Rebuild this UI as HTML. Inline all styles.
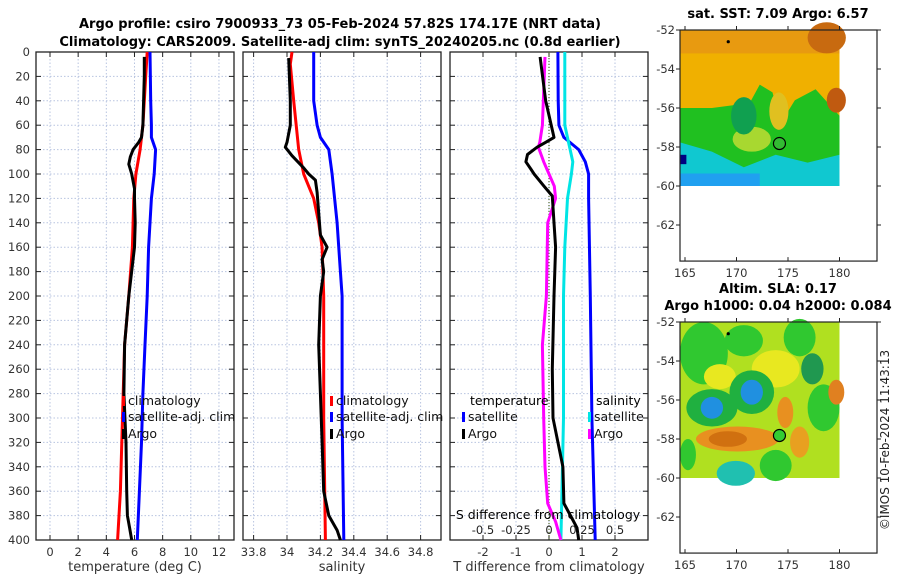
<!DOCTYPE html>
<html><head><meta charset="utf-8"><style>
html,body{margin:0;padding:0;background:#fff;}
svg{display:block;font-family:"DejaVu Sans","Liberation Sans",sans-serif;}
</style></head><body>
<svg id="fig" width="900" height="580" viewBox="0 0 900 580" xmlns="http://www.w3.org/2000/svg">
<text x="340" y="28" text-anchor="middle" font-size="13" font-weight="bold">Argo profile: csiro 7900933_73 05-Feb-2024 57.82S 174.17E (NRT data)</text>
<text x="340" y="46" text-anchor="middle" font-size="13" font-weight="bold">Climatology: CARS2009. Satellite-adj clim: synTS_20240205.nc (0.8d earlier)</text>
<g id="maps"></g>
<g id="panels"></g>
<text transform="translate(889,440) rotate(-90)" text-anchor="middle" font-size="12" fill="#222">©IMOS 10-Feb-2024 11:43:13</text>
</svg>
<script>
// ---------- data ----------
const depthTicks=[0,20,40,60,80,100,120,140,160,180,200,220,240,260,280,300,320,340,360,380,400];
const tempTicks=[0,2,4,6,8,10,12];
const salTicks=[33.8,34,34.2,34.4,34.6,34.8];
const tdTicks=[-2,-1,0,1,2];
const sdTicks=[-0.5,-0.25,0,0.25,0.5];
const sdTickLabels=["-0.5","-0.25","0","0.25","0.5"];
const latTicks=[-52,-54,-56,-58,-60,-62];
const lonTicks=[165,170,175,180];

const climDepth=[0,20,40,60,80,100,120,140,160,200,240,280,320,360,400];
const climTemp=[6.9,6.8,6.7,6.6,6.4,6.1,5.95,5.9,5.85,5.6,5.3,5.2,5.1,5.0,4.8];
const satDepth=[0,40,60,70,80,100,120,140,160,200,240,280,320,360,400];
const satTemp=[7.1,7.15,7.2,7.2,7.5,7.4,7.2,7.1,7.0,6.9,6.75,6.6,6.5,6.35,6.2];
const argoDepth=[4,20,40,60,70,74,80,86,92,100,106,112,120,140,160,200,240,280,320,360,380,390,400];
const argoTemp=[6.7,6.7,6.65,6.6,6.5,6.3,5.9,5.7,5.6,5.8,5.9,6.0,6.0,6.05,6.0,5.6,5.3,5.25,5.4,5.45,5.5,5.65,5.8];

const climSalDepth=[0,10,40,80,100,120,140,160,200,300,400];
const climSal=[34.03,34.02,34.04,34.07,34.1,34.16,34.19,34.21,34.22,34.22,34.23];
const satSalDepth=[0,40,60,70,80,100,140,180,200,300,400];
const satSal=[34.16,34.16,34.18,34.2,34.25,34.27,34.3,34.32,34.33,34.33,34.34];
const argoSalDepth=[5,40,60,74,78,85,95,100,105,115,150,160,170,180,200,240,280,320,360,380,392,400];
const argoSal=[34.01,34.02,34.02,34.0,33.99,34.03,34.1,34.13,34.17,34.18,34.2,34.24,34.21,34.22,34.2,34.19,34.2,34.21,34.22,34.25,34.3,34.32];

const tdSatDepth=[0,40,60,70,80,90,100,120,200,300,400];
const tdSat=[0.27,0.28,0.3,0.45,0.9,1.1,1.2,1.2,1.25,1.3,1.4];
const tdArgoDepth=[4,40,70,74,78,84,90,96,100,110,118,140,160,200,260,300,340,370,380,390,400];
const tdArgo=[-0.27,-0.1,0.15,-0.1,-0.36,-0.65,-0.7,-0.55,-0.45,-0.15,0.1,0.15,0.2,0.15,0.1,0.12,0.42,0.45,0.65,0.85,0.9];
const sdSatDepth=[0,60,75,90,100,120,160,200,300,400];
const sdSat=[0.12,0.12,0.15,0.18,0.17,0.14,0.12,0.11,0.11,0.09];
const sdArgoDepth=[4,60,74,78,90,100,110,120,140,200,240,300,340,370,385,400];
const sdArgo=[-0.03,-0.05,-0.07,-0.08,-0.04,0.0,0.04,0.05,-0.01,-0.02,-0.05,-0.04,-0.03,-0.01,0.05,0.09];

// ---------- helpers ----------
const NS="http://www.w3.org/2000/svg";
function mk(tag,attrs,parent,txt){const e=document.createElementNS(NS,tag);for(const k in attrs)e.setAttribute(k,attrs[k]);if(txt!==undefined)e.textContent=txt;parent.appendChild(e);return e;}
const Y0=52,Y1=540;
function yD(d){return Y0+(Y1-Y0)*d/400;}
const panels=document.getElementById('panels');

function drawPanel(name,L,R,xf,ticks,labels,xlabel,showDepthLabels){
  const g=mk('g',{},panels);
  
  
  ticks.forEach(t=>{const x=xf(t);
    const gl=mk('line',{x1:x,x2:x,y1:Y0,y2:Y1,stroke:'#b8c4e0','stroke-width':1,'stroke-dasharray':'1.5,2'},g);
    
    mk('line',{x1:x,x2:x,y1:Y1,y2:Y1-5,stroke:'#222'},g);
    mk('line',{x1:x,x2:x,y1:Y0,y2:Y0+5,stroke:'#222'},g);
  });
  ticks.forEach((t,i)=>{const lb=mk('text',{x:xf(t),y:Y1+16,'text-anchor':'middle','font-size':11.5,fill:'#333'},g,labels?labels[i]:String(t));
    });
  depthTicks.forEach(d=>{const y=yD(d);
    const gl=mk('line',{x1:L,x2:R,y1:y,y2:y,stroke:'#b8c4e0','stroke-width':1,'stroke-dasharray':'1.5,2'},g);
    
    mk('line',{x1:L,x2:L+5,y1:y,y2:y,stroke:'#222'},g);
    mk('line',{x1:R,x2:R-5,y1:y,y2:y,stroke:'#222'},g);
    if(showDepthLabels){const lb=mk('text',{x:L-6,y:y+4,'text-anchor':'end','font-size':11.5,fill:'#333'},g,String(d));
      }
  });
  const fr=mk('rect',{x:L,y:Y0,width:R-L,height:Y1-Y0,fill:'none',stroke:'#222','stroke-width':1.3},g);
  
  const xl=mk('text',{x:(L+R)/2,y:571,'text-anchor':'middle','font-size':13,fill:'#333'},g,xlabel);
  
  return g;
}
function line(g,name,depths,vals,xf,color){
  const pts=depths.map((d,i)=>xf(vals[i]).toFixed(1)+','+yD(d).toFixed(1)).join(' ');
  const p=mk('polyline',{points:pts,fill:'none',stroke:color,'stroke-width':3,'stroke-linejoin':'round'},g);
  
  
}
function legend(g,x,y,color,label){
  mk('rect',{x:x,y:y-9,width:3,height:10,fill:color},g);
  const t=mk('text',{x:x+6,y:y,'font-size':12.5,fill:'#111'},g,label);
  
  
}

// Panel 1: temperature
const xT=v=>50+v*14.08;
const g1=drawPanel('temperature-panel',36,234,xT,tempTicks,null,'temperature (deg C)',true);
line(g1,'climatology-temperature-line',climDepth,climTemp,xT,'#ff0000');
line(g1,'satellite-temperature-line',satDepth,satTemp,xT,'#0000ff');
line(g1,'argo-temperature-line',argoDepth,argoTemp,xT,'#000000');
legend(g1,122,405,'#ff0000','climatology');
legend(g1,122,421,'#0000ff','satellite-adj. clim');
legend(g1,122,438,'#000000','Argo');

// Panel 2: salinity
const xS=v=>287+(v-34)*167;
const g2=drawPanel('salinity-panel',243,441,xS,salTicks,["33.8","34","34.2","34.4","34.6","34.8"],'salinity',false);
line(g2,'climatology-salinity-line',climSalDepth,climSal,xS,'#ff0000');
line(g2,'satellite-salinity-line',satSalDepth,satSal,xS,'#0000ff');
line(g2,'argo-salinity-line',argoSalDepth,argoSal,xS,'#000000');
legend(g2,330,405,'#ff0000','climatology');
legend(g2,330,421,'#0000ff','satellite-adj. clim');
legend(g2,330,438,'#000000','Argo');

// Panel 3: differences
const xTD=v=>549+v*33;
const xSD=v=>549+v*132;
const g3=drawPanel('difference-panel',450,648,xTD,tdTicks,null,'T difference from climatology',false);
mk('line',{x1:xTD(0),x2:xTD(0),y1:Y0,y2:Y1,stroke:'#556b2f','stroke-width':1.2,'stroke-dasharray':'1,2'},g3);
line(g3,'satellite-t-diff-line',tdSatDepth,tdSat,xTD,'#0000ff');
line(g3,'satellite-s-diff-line',sdSatDepth,sdSat,xSD,'#00e5e5');
line(g3,'argo-s-diff-line',sdArgoDepth,sdArgo,xSD,'#ff00ff');
line(g3,'argo-t-diff-line',tdArgoDepth,tdArgo,xTD,'#000000');
let tt=mk('text',{x:470,y:405,'font-size':12.5},g3,'temperature');
legend(g3,462,421,'#0000ff','satellite');
legend(g3,462,438,'#000000','Argo');
tt=mk('text',{x:596,y:405,'font-size':12.5},g3,'salinity');
legend(g3,588,421,'#00e5e5','satellite');
legend(g3,588,438,'#ff00ff','Argo');
tt=mk('text',{x:548,y:519,'text-anchor':'middle','font-size':12.5},g3,'S difference from climatology');
sdTicks.forEach((t,i)=>{const l=mk('text',{x:xSD(t),y:534,'text-anchor':'middle','font-size':11.5,fill:'#222'},g3,sdTickLabels[i]);
  });

// ---------- maps ----------
const maps=document.getElementById('maps');
const lonX=v=>685+(v-165)*10.3;
function drawMap(name,top,title,title2,dotFill){
  const g=mk('g',{},maps);
  
  
  const latY=v=>top+(-52-v)*19.5;
  const L=680,R=877,B=latY(-63.85);
  const x0=L,x1=lonX(180),y0=top,y1=latY(-60);
  const W=x1-x0,H=y1-y0;
  lonTicks.forEach(l=>{const x=lonX(l);
    mk('line',{x1:x,x2:x,y1:B,y2:B-4,stroke:'#222'},g);mk('line',{x1:x,x2:x,y1:top,y2:top-4,stroke:'#222'},g);
    const t=mk('text',{x:x,y:B+16,'text-anchor':'middle','font-size':11.5,fill:'#333'},g,String(l));
    });
  latTicks.forEach(l=>{const y=latY(l);
    mk('line',{x1:L,x2:L-4,y1:y,y2:y,stroke:'#222'},g);mk('line',{x1:R,x2:R+4,y1:y,y2:y,stroke:'#222'},g);
    const t=mk('text',{x:L-5,y:y+4,'text-anchor':'end','font-size':11.5,fill:'#333'},g,String(l));
    });
  const fr=mk('rect',{x:L,y:top,width:R-L,height:B-top,fill:'none',stroke:'#222','stroke-width':1.2},g);
  
  let t=mk('text',{x:778,y:top-(title2?29:12),'text-anchor':'middle','font-size':13,'font-weight':'bold'},g,title);
  
  if(title2){t=mk('text',{x:778,y:top-12,'text-anchor':'middle','font-size':13,'font-weight':'bold'},g,title2);
    }
  const bg=document.createElementNS(NS,'g');g.insertBefore(bg,g.firstChild);
  return {x0,y0,W,H,g,bg,latY,dotFill};
}
function finishMap(m){
  const c=mk('circle',{cx:lonX(174.17),cy:m.latY(-57.82),r:6,fill:m.dotFill,stroke:'#000','stroke-width':1.2},m.g);
  
  mk('circle',{cx:lonX(169.2),cy:m.latY(-52.6),r:1.6,fill:'#000'},m.g);
}

// SST map
const m1=drawMap('sst-map',30,'sat. SST: 7.09 Argo: 6.57',null,'#33bb33');
(function(){const bg=m1.bg;const x0=m1.x0,y0=m1.y0,W=m1.W,H=m1.H;
 mk('rect',{x:x0,y:y0,width:W,height:H,fill:'#20c020'},bg);
 mk('polygon',{points:`${x0},${y0} ${x0+W},${y0} ${x0+W},${y0+H*0.55} ${x0+W*0.85},${y0+H*0.38} ${x0+W*0.72},${y0+H*0.45} ${x0+W*0.63},${y0+H*0.6} ${x0+W*0.58},${y0+H*0.4} ${x0+W*0.5},${y0+H*0.35} ${x0+W*0.42},${y0+H*0.5} ${x0+W*0.35},${y0+H*0.48} ${x0+W*0.2},${y0+H*0.5} ${x0},${y0+H*0.5}`,fill:'#f0b000'},bg);
 mk('rect',{x:x0,y:y0,width:W,height:H*0.15,fill:'#e89a10'},bg);
 mk('ellipse',{cx:x0+W*0.92,cy:y0+H*0.05,rx:W*0.12,ry:H*0.1,fill:'#c86a10'},bg);
 mk('ellipse',{cx:x0+W*0.98,cy:y0+H*0.45,rx:W*0.06,ry:H*0.08,fill:'#c05a10'},bg);
 mk('ellipse',{cx:x0+W*0.62,cy:y0+H*0.52,rx:W*0.06,ry:H*0.12,fill:'#e0c020'},bg);
 mk('ellipse',{cx:x0+W*0.45,cy:y0+H*0.7,rx:W*0.12,ry:H*0.08,fill:'#a8d830'},bg);
 mk('ellipse',{cx:x0+W*0.4,cy:y0+H*0.55,rx:W*0.08,ry:H*0.12,fill:'#10a050'},bg);
 mk('polygon',{points:`${x0},${y0+H*0.72} ${x0+W*0.2},${y0+H*0.78} ${x0+W*0.4},${y0+H*0.88} ${x0+W*0.6},${y0+H*0.8} ${x0+W*0.8},${y0+H*0.85} ${x0+W},${y0+H*0.8} ${x0+W},${y0+H} ${x0},${y0+H}`,fill:'#10c8d0'},bg);
 mk('rect',{x:x0,y:y0+H*0.92,width:W*0.5,height:H*0.08,fill:'#20a0f0'},bg);
 mk('rect',{x:x0,y:y0+H*0.8,width:W*0.04,height:H*0.06,fill:'#000080'},bg);
})();
finishMap(m1);

// SLA map
const m2=drawMap('sla-map',322,'Altim. SLA: 0.17','Argo h1000: 0.04 h2000: 0.084','#33cc33');
(function(){const bg=m2.bg;const x0=m2.x0,y0=m2.y0,W=m2.W,H=m2.H;
 mk('rect',{x:x0,y:y0,width:W,height:H,fill:'#b0e020'},bg);
 const E=(cx,cy,rx,ry,f)=>mk('ellipse',{cx:x0+W*cx,cy:y0+H*cy,rx:W*rx,ry:H*ry,fill:f},bg);
 E(0.15,0.2,0.15,0.2,'#30c830');E(0.4,0.12,0.12,0.1,'#30c830');E(0.75,0.1,0.1,0.12,'#30c830');
 E(0.6,0.3,0.15,0.12,'#e8e820');E(0.25,0.35,0.1,0.08,'#e8e820');
 E(0.2,0.55,0.16,0.12,'#20b040');E(0.45,0.45,0.14,0.14,'#20b040');
 E(0.2,0.55,0.07,0.07,'#2090e0');E(0.45,0.45,0.07,0.08,'#2090e0');
 E(0.9,0.55,0.1,0.15,'#30c830');E(0.83,0.3,0.07,0.1,'#209850');
 E(0.36,0.75,0.26,0.08,'#e89020');E(0.3,0.75,0.12,0.05,'#d07010');
 E(0.66,0.58,0.05,0.1,'#e89020');E(0.75,0.77,0.06,0.1,'#e8a020');
 E(0.98,0.45,0.05,0.08,'#e08020');
 E(0.35,0.97,0.12,0.08,'#20c0b0');E(0.6,0.92,0.1,0.1,'#30c830');E(0.05,0.85,0.05,0.1,'#30c830');
})();
finishMap(m2);
</script>
</body></html>
